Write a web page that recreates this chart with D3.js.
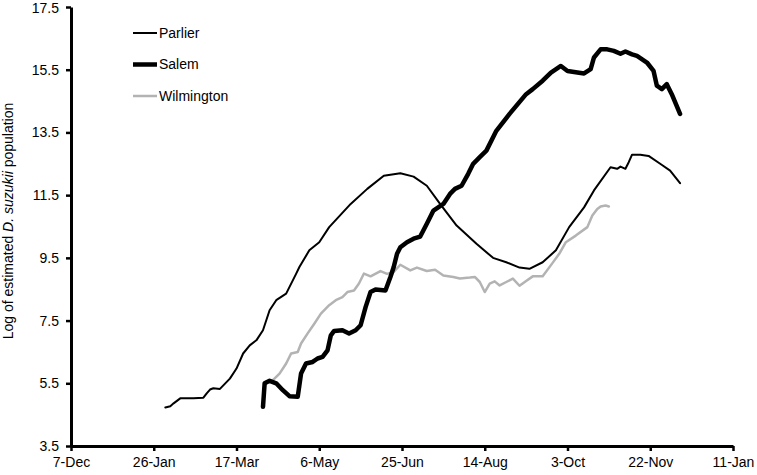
<!DOCTYPE html>
<html>
<head>
<meta charset="utf-8">
<script src="https://cdn.jsdelivr.net/npm/d3@7"></script>
<style>
  body { margin: 0; background: #fff; }
  svg { font-family: "Liberation Sans", Arial, sans-serif; }
</style>
</head>
<body>
<div id="chart"></div>
<script>
// days counted from 7-Dec
const tickDays = [0, 50, 100, 150, 200, 250, 300, 350, 400];
const tickLabels = ['7-Dec', '26-Jan', '17-Mar', '6-May', '25-Jun', '14-Aug', '3-Oct', '22-Nov', '11-Jan'];
const yTicks = [3.5, 5.5, 7.5, 9.5, 11.5, 13.5, 15.5, 17.5];

const parlierDays = [57, 60, 62, 66, 74, 80, 82, 84, 86, 90, 96, 100, 104, 108, 112, 116, 120, 124, 130, 136, 138, 144, 150, 156, 169, 179, 189, 199, 207, 215, 223, 233, 245, 255, 263, 271, 277, 285, 293, 301, 310, 316, 326, 330, 332, 335, 337, 339, 344, 349, 356, 362, 368];
const parlierVals = [4.73, 4.77, 4.86, 5.02, 5.02, 5.04, 5.18, 5.30, 5.34, 5.32, 5.65, 5.97, 6.45, 6.71, 6.87, 7.19, 7.83, 8.15, 8.36, 8.99, 9.21, 9.74, 10.0, 10.48, 11.22, 11.70, 12.12, 12.20, 12.09, 11.80, 11.22, 10.53, 9.95, 9.50, 9.36, 9.19, 9.15, 9.36, 9.74, 10.48, 11.11, 11.65, 12.39, 12.34, 12.41, 12.34, 12.55, 12.79, 12.79, 12.75, 12.50, 12.28, 11.88];

const salemDays = [116, 117, 120, 124, 128, 132, 137, 139, 142, 146, 149, 152, 155, 157, 159, 164, 168, 172, 175, 178, 181, 184, 190, 193, 195, 197, 199, 203, 207, 211, 215, 219, 225, 229, 232, 236, 240, 243, 247, 251, 257, 265, 275, 279, 285, 290, 296, 300, 310, 314, 316, 320, 324, 328, 332, 335, 339, 342, 348, 352, 354, 357, 360, 363, 368];
const salemVals = [4.75, 5.50, 5.58, 5.50, 5.28, 5.09, 5.07, 5.81, 6.13, 6.18, 6.29, 6.34, 6.55, 7.03, 7.17, 7.19, 7.09, 7.19, 7.35, 7.93, 8.41, 8.49, 8.46, 8.89, 9.21, 9.63, 9.84, 10.0, 10.11, 10.18, 10.59, 11.01, 11.22, 11.54, 11.70, 11.80, 12.18, 12.50, 12.71, 12.92, 13.55, 14.09, 14.72, 14.88, 15.15, 15.41, 15.62, 15.46, 15.38, 15.52, 15.89, 16.15, 16.15, 16.10, 16.01, 16.08, 15.99, 15.94, 15.73, 15.46, 14.99, 14.88, 15.04, 14.72, 14.09];

const wilmDays = [116, 117, 118, 122, 126, 130, 133, 137, 139, 143, 147, 151, 156, 160, 164, 167, 171, 174, 177, 181, 187, 191, 195, 199, 205, 209, 215, 220, 225, 231, 235, 241, 244, 247, 250, 253, 256, 259, 263, 267, 271, 275, 279, 285, 291, 295, 299, 305, 312, 315, 318, 320, 323, 325];
const wilmVals = [4.75, 5.39, 5.55, 5.60, 5.81, 6.13, 6.45, 6.50, 6.77, 7.09, 7.40, 7.72, 7.99, 8.15, 8.25, 8.41, 8.46, 8.68, 9.0, 8.91, 9.08, 8.99, 9.05, 9.28, 9.10, 9.19, 9.08, 9.12, 8.94, 8.89, 8.84, 8.87, 8.89, 8.73, 8.41, 8.68, 8.75, 8.62, 8.73, 8.84, 8.61, 8.76, 8.91, 8.91, 9.34, 9.63, 10.0, 10.21, 10.48, 10.85, 11.06, 11.14, 11.17, 11.14];

const seriesNames = ['Parlier', 'Salem', 'Wilmington'];

const width = 757, height = 475;
const margin = { left: 71, right: 24, top: 7, bottom: 29 };

const svg = d3.select('#chart').append('svg')
    .attr('width', width)
    .attr('height', height);

const x = d3.scaleLinear().domain([0, 400]).range([margin.left, width - margin.right]);
const y = d3.scaleLinear().domain([3.5, 17.5]).range([height - margin.bottom, margin.top]);

// Axes
const xAxis = svg.append('g')
    .attr('transform', `translate(0,${height - margin.bottom})`)
    .call(d3.axisBottom(x).tickValues(tickDays).tickFormat((d, i) => tickLabels[i]).tickSize(5).tickSizeOuter(0));
const yAxis = svg.append('g')
    .attr('transform', `translate(${margin.left},0)`)
    .call(d3.axisLeft(y).tickValues(yTicks).tickFormat(d3.format('.1f')).tickSize(5).tickSizeOuter(0));

[xAxis, yAxis].forEach(g => {
    g.select('.domain').attr('stroke', '#000').attr('stroke-width', 3);
    g.selectAll('.tick line').attr('stroke', '#000').attr('stroke-width', 2.5);
    g.selectAll('.tick text').attr('fill', '#000').attr('font-size', 14)
        .attr('font-family', '"Liberation Sans", Arial, sans-serif');
});
xAxis.selectAll('.tick text').attr('dy', '0.95em');
yAxis.selectAll('.tick text').attr('x', -12);
// keep the top label inside the picture
yAxis.selectAll('.tick text').filter(d => d === 17.5).attr('dy', '0.42em');

// Y title
const yTitle = svg.append('text')
    .attr('transform', `translate(13,221) rotate(-90)`)
    .attr('text-anchor', 'middle')
    .attr('font-size', 14)
    .attr('fill', '#000');
yTitle.append('tspan').text('Log of estimated ');
yTitle.append('tspan').attr('font-style', 'italic').text('D. suzukii');
yTitle.append('tspan').text(' population');

// Lines
const line = d3.line()
    .x(d => x(d[0]))
    .y(d => y(d[1]));

const styles = {
    Parlier: { color: '#000', width: 2 },
    Salem: { color: '#000', width: 4.5 },
    Wilmington: { color: '#b3b3b3', width: 2.5 }
};

const data = {
    Parlier: d3.zip(parlierDays, parlierVals),
    Salem: d3.zip(salemDays, salemVals),
    Wilmington: d3.zip(wilmDays, wilmVals)
};

['Parlier', 'Wilmington', 'Salem'].forEach(name => {
    svg.append('path')
        .datum(data[name])
        .attr('fill', 'none')
        .attr('stroke', styles[name].color)
        .attr('stroke-width', styles[name].width)
        .attr('stroke-linejoin', 'round')
        .attr('stroke-linecap', 'round')
        .attr('d', line);
});

// Legend
const legend = svg.append('g');
seriesNames.forEach((name, i) => {
    const ly = 33 + i * 31.5;
    legend.append('line')
        .attr('x1', 133).attr('x2', 157)
        .attr('y1', ly).attr('y2', ly)
        .attr('stroke', styles[name].color)
        .attr('stroke-width', styles[name].width);
    legend.append('text')
        .attr('x', 159).attr('y', ly)
        .attr('dy', '0.35em')
        .attr('font-size', 14)
        .attr('fill', '#000')
        .text(name);
});
</script>
</body>
</html>
